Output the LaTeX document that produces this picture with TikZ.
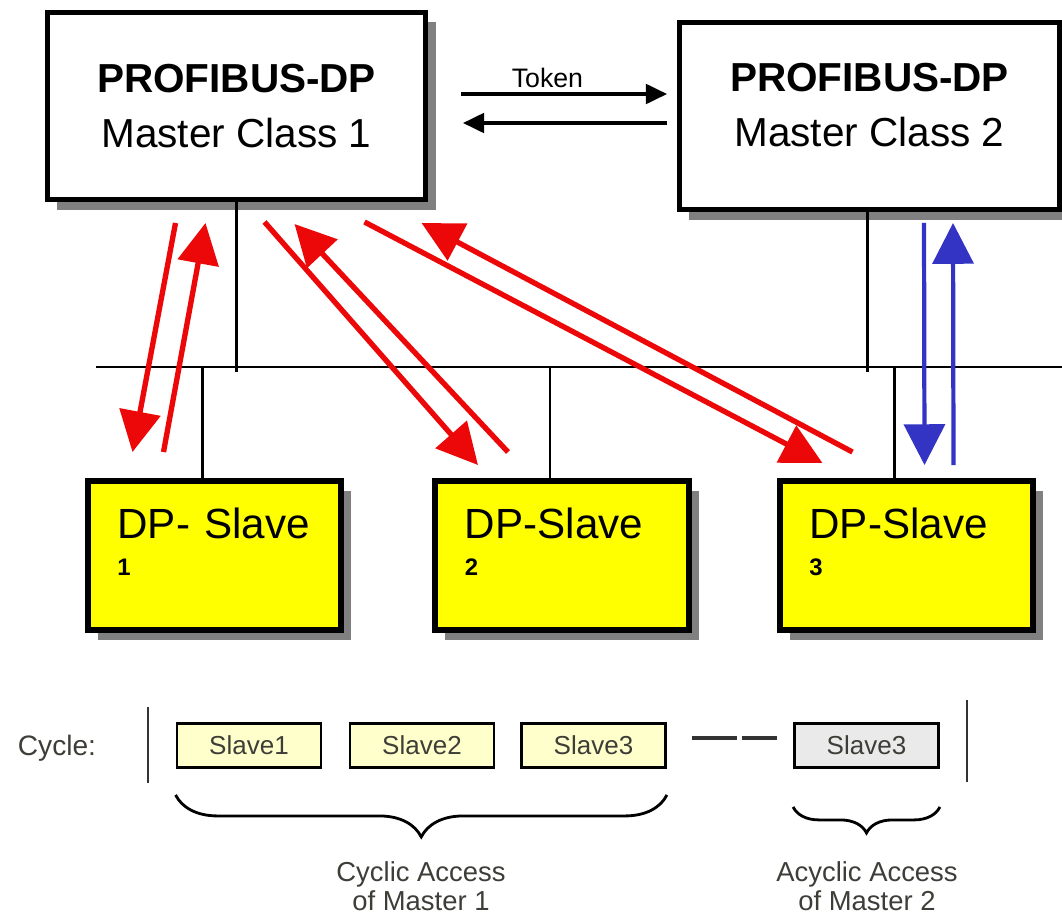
\documentclass[tikz,border=0pt]{standalone}
\usepackage{fontspec}
\setmainfont{Liberation Sans}
\usetikzlibrary{calc}
\usetikzlibrary{arrows.meta}
\usetikzlibrary{shadows}
\usetikzlibrary{decorations.pathreplacing}

\definecolor{dpyellow}{RGB}{255,255,0}
\definecolor{cellyellow}{RGB}{255,255,204}
\definecolor{cellgray}{RGB}{234,234,234}
\definecolor{cycred}{RGB}{236,8,8}
\definecolor{acycblue}{RGB}{51,51,196}
\definecolor{txtgray}{RGB}{62,62,56}

\tikzset{
 shadowed/.style={draw=black, drop shadow={shadow xshift=.25cm, shadow yshift=-.25cm, fill=black!50, opacity=1}},
 master/.style={shadowed, fill=white, line width=3.5pt, minimum width=9.45cm, minimum height=4.675cm, inner sep=0pt, align=center, font=\fontsize{28.8}{39}\selectfont},
 slave/.style={shadowed, fill=dpyellow, line width=4.2pt, minimum width=6.325cm, minimum height=3.725cm, text width=4.85cm, inner xsep=.74cm, inner ysep=0pt, align=left, font=\fontsize{30}{26}\selectfont},
 cell/.style={draw=black, line width=2pt, minimum width=3.6cm, minimum height=1.1cm, inner sep=0pt, text=txtgray, font=\fontsize{18.5}{22}\selectfont},
 wire/.style={line width=2pt},
 tok/.style={line width=2.2pt, -{Triangle[length=15pt,width=14pt]}},
 cyc/.style={cycred, line width=3.8pt, -{Triangle[length=29pt,width=29pt]}},
 acyc/.style={acycblue, line width=3pt, -{Triangle[length=29pt,width=29pt]}},
 note/.style={align=center, text=txtgray, font=\fontsize{19.5}{21}\selectfont},
 grp/.style={line width=2pt, decorate, decoration={brace, mirror, amplitude=#1}},
}

\begin{document}
\begin{tikzpicture}[x=0.025cm, y=-0.025cm]
\useasboundingbox (0,0) rectangle (1062,915);

\node[master] (m1) at (236.5,106) {\textbf{PROFIBUS-DP}\\Master Class 1};
\node[master, minimum width=9.5cm] (m2) at (869.5,116) {\textbf{PROFIBUS-DP}\\Master Class 2\rule[-0.55cm]{0pt}{0pt}};

\node[slave] (s1) at (214.5,555.5) {DP- Slave\\{\fontsize{17}{26}\selectfont\bfseries 1}\rule[-0.7cm]{0pt}{0pt}};
\node[slave] (s2) at (562,555.5) {DP-Slave\\{\fontsize{17}{26}\selectfont\bfseries 2}\rule[-0.7cm]{0pt}{0pt}};
\node[slave] (s3) at (906.5,555.5) {DP-Slave\\{\fontsize{17}{26}\selectfont\bfseries 3}\rule[-0.7cm]{0pt}{0pt}};

\coordinate (k1) at ($(m1.east)+(33,-12)$);
\coordinate (k2) at ($(m1.east)+(35,17)$);
\draw[tok, shorten >=.25cm] (k1) -- node[pos=.4, above, font=\fontsize{19}{22}\selectfont] (tk) {Token} (k1 -| m2.west);
\draw[tok, shorten <=.25cm] (k2 -| m2.west) -- (k2);

\coordinate (bus) at (96,367);
\coordinate (busend) at (1062,367);
\draw[wire] (bus) -- (busend);
\draw[wire] (m1.south) -- ($(m1.south |- bus)+(0,5)$);
\draw[wire] ($(m2.south)+(-2,0)$) -- ($(m2.south |- bus)+(-2,5)$);
\foreach \s in {s1,s2,s3}
  \draw[wire] ($(\s.north)+(-12,0)$) -- ($(\s.north |- bus)+(-12,0)$);

\draw[cyc] ($(m1.south)+(-61,21)$) -- ($(s1.north)+(-82,-26)$);
\draw[cyc] ($(s1.north)+(-51,-26)$) -- ($(m1.south)+(-31,21)$);
\draw[cyc] ($(m1.south)+(28,20)$) -- ($(s2.north)+(-84,-13)$);
\draw[cyc] ($(s2.north)+(-54,-26)$) -- ($(m1.south)+(58,22)$);
\draw[cyc] ($(m1.south)+(128,20)$) -- ($(s3.north)+(-84,-15)$);
\draw[cyc] ($(s3.north)+(-54,-26)$) -- ($(m1.south)+(185,21)$);
\draw[acyc] ($(m2.south)+(54.5,11)$) -- ($(s3.north)+(18,-13)$);
\draw[acyc] ($(s3.north)+(47,-13)$) -- ($(m2.south)+(83.5,11)$);

\node[text=txtgray, font=\fontsize{20}{24}\selectfont] (cycle) at (57,748) {Cycle:};
\coordinate (barl) at (148,707);
\coordinate (barr) at (967,700);
\draw[wire, black!80] (barl) -- ++(0,76);
\draw[wire, black!80] (barr) -- ++(0,82);

\node[cell, fill=cellyellow] (cyc1) at (249,745.5) {Slave1};
\node[cell, fill=cellyellow] (cyc2) at (422,745.5) {Slave2};
\node[cell, fill=cellyellow] (cyc3) at (593.5,745.5) {Slave3};
\node[cell, fill=cellgray] (acyc3) at (866.5,745.5) {Slave3};
\draw[line width=2.8pt, black!80, dash pattern=on 1.125cm off .125cm, shorten <=.625cm, shorten >=.4cm]
  ($(cyc3.east)+(0,-7.5)$) -- ($(acyc3.west)+(0,-7.5)$);

\draw[grp=1.05cm] ($(cyc1.south west)+(0,26)$) -- ($(cyc3.south east)+(0,26)$);
\draw[grp=.65cm] ($(acyc3.south west)+(0,38)$) -- ($(acyc3.south east)+(0,38)$);
\node[note] (cycacc) at (421,886) {Cyclic Access\\of Master 1};
\node[note] (acycacc) at (867,886) {Acyclic Access\\of Master 2};
\end{tikzpicture}
\end{document}
